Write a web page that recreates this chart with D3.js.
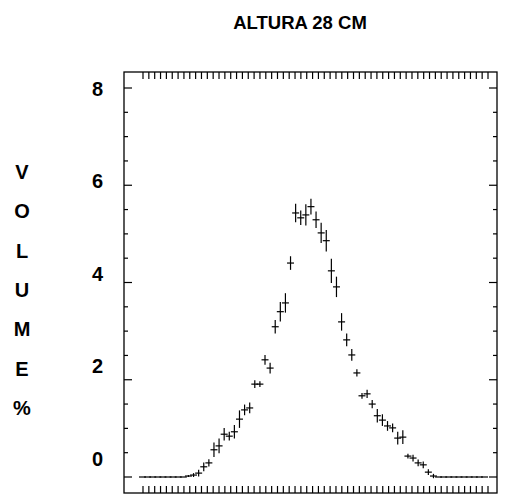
<!DOCTYPE html>
<html>
<head>
<meta charset="utf-8">
<script src="https://cdn.jsdelivr.net/npm/d3@7"></script>
<style>
  html, body { margin: 0; padding: 0; background: #fff; }
  svg { display: block; }
  text { font-family: "Liberation Sans", Arial, sans-serif; font-weight: bold; fill: #000; }
</style>
</head>
<body>
<svg id="chart" width="507" height="494"></svg>
<script>
// ---- data ----
const title = "ALTURA 28 CM";
const yTitleLetters = ["V", "O", "L", "U", "M", "E", "%"];
const yTickLabels = [0, 2, 4, 6, 8];
// Volume % per size class (index order), zeros at both ends
const volume = [
  0, 0, 0, 0, 0, 0, 0, 0, 0,
  0.02, 0.04, 0.08, 0.21, 0.29, 0.56, 0.64, 0.88, 0.84, 0.93,
  1.19, 1.38, 1.42, 1.91, 1.91, 2.41, 2.24, 3.09, 3.40, 3.58,
  4.40, 5.43, 5.33, 5.39, 5.56, 5.29, 5.02, 4.86, 4.24, 3.91,
  3.19, 2.82, 2.51, 2.14, 1.67, 1.71, 1.50, 1.26, 1.17, 1.05,
  1.01, 0.80, 0.82, 0.43, 0.39, 0.29, 0.25, 0.10, 0.02,
  0, 0, 0, 0, 0, 0, 0, 0, 0, 0
];
// half-length of the vertical bar of each cross (volume units)
const spread = [
  0, 0, 0, 0, 0, 0, 0, 0, 0,
  0.02, 0.04, 0.07, 0.09, 0.075, 0.15, 0.15, 0.13, 0.09, 0.14,
  0.18, 0.11, 0.11, 0.08, 0.06, 0.10, 0.11, 0.14, 0.20, 0.20,
  0.14, 0.19, 0.15, 0.22, 0.16, 0.17, 0.21, 0.22, 0.25, 0.21,
  0.18, 0.13, 0.12, 0.075, 0.06, 0.085, 0.085, 0.14, 0.12, 0.10,
  0.09, 0.13, 0.14, 0.05, 0.07, 0.07, 0.07, 0.06, 0.045,
  0, 0, 0, 0, 0, 0, 0, 0, 0, 0
];
const xTickCount = 60;

// ---- layout ----
const frame = { left: 124, right: 497, top: 72, bottom: 493 };
const svg = d3.select("#chart");

const y = d3.scaleLinear().domain([0, 8]).range([477, 88]);
const yLabel = d3.scaleLinear().domain([0, 8]).range([459, 88.5]);
const x = d3.scaleLinear().domain([0, volume.length - 1]).range([142.5, 484.5]);
const xt = d3.scaleLinear().domain([0, xTickCount - 1]).range([143, 488]);

// frame
svg.append("rect")
  .attr("x", frame.left).attr("y", frame.top)
  .attr("width", frame.right - frame.left).attr("height", frame.bottom - frame.top)
  .attr("fill", "none").attr("stroke", "#000").attr("stroke-width", 1.3);

// y ticks (left and right, inward)
const yTicks = d3.range(0, 8.001, 0.5);
const tickG = svg.append("g").attr("stroke", "#000").attr("stroke-width", 1.2);
yTicks.forEach(v => {
  const major = Math.abs(v % 2) < 1e-6;
  const len = major ? 8 : 4;
  tickG.append("line")
    .attr("x1", frame.left).attr("x2", frame.left + len)
    .attr("y1", y(v)).attr("y2", y(v));
  tickG.append("line")
    .attr("x1", frame.right).attr("x2", frame.right - len)
    .attr("y1", y(v)).attr("y2", y(v));
});

// x ticks (top and bottom, inward)
d3.range(xTickCount).forEach(i => {
  tickG.append("line")
    .attr("x1", xt(i)).attr("x2", xt(i))
    .attr("y1", frame.top).attr("y2", frame.top + 7);
  tickG.append("line")
    .attr("x1", xt(i)).attr("x2", xt(i))
    .attr("y1", frame.bottom).attr("y2", frame.bottom - 7);
});

// y tick labels
svg.append("g").selectAll("text").data(yTickLabels).join("text")
  .attr("x", 103).attr("y", d => yLabel(d))
  .attr("text-anchor", "end").attr("dominant-baseline", "central")
  .attr("font-size", 20)
  .text(d => d);

// y axis title (stacked letters)
const letterY = d3.scalePoint().domain(d3.range(yTitleLetters.length)).range([172, 408]);
svg.append("g").selectAll("text").data(yTitleLetters).join("text")
  .attr("x", 22).attr("y", (d, i) => letterY(i))
  .attr("text-anchor", "middle").attr("dominant-baseline", "central")
  .attr("font-size", 20)
  .text(d => d);

// title
svg.append("text")
  .attr("x", 300).attr("y", 22)
  .attr("text-anchor", "middle").attr("dominant-baseline", "central")
  .attr("font-size", 18.5)
  .text(title);

// crosses
const pts = volume.map((v, i) => ({ i, v, s: spread[i] }));
const cg = svg.append("g").attr("stroke", "#000").attr("stroke-width", 1.2);
cg.selectAll("line.h").data(pts).join("line").attr("class", "h")
  .attr("x1", d => x(d.i) - 3.5).attr("x2", d => x(d.i) + 3.5)
  .attr("y1", d => y(d.v)).attr("y2", d => y(d.v));
cg.selectAll("line.v").data(pts.filter(d => d.s > 0)).join("line").attr("class", "v")
  .attr("x1", d => x(d.i)).attr("x2", d => x(d.i))
  .attr("y1", d => y(d.v - d.s)).attr("y2", d => y(d.v + d.s));
</script>
</body>
</html>
